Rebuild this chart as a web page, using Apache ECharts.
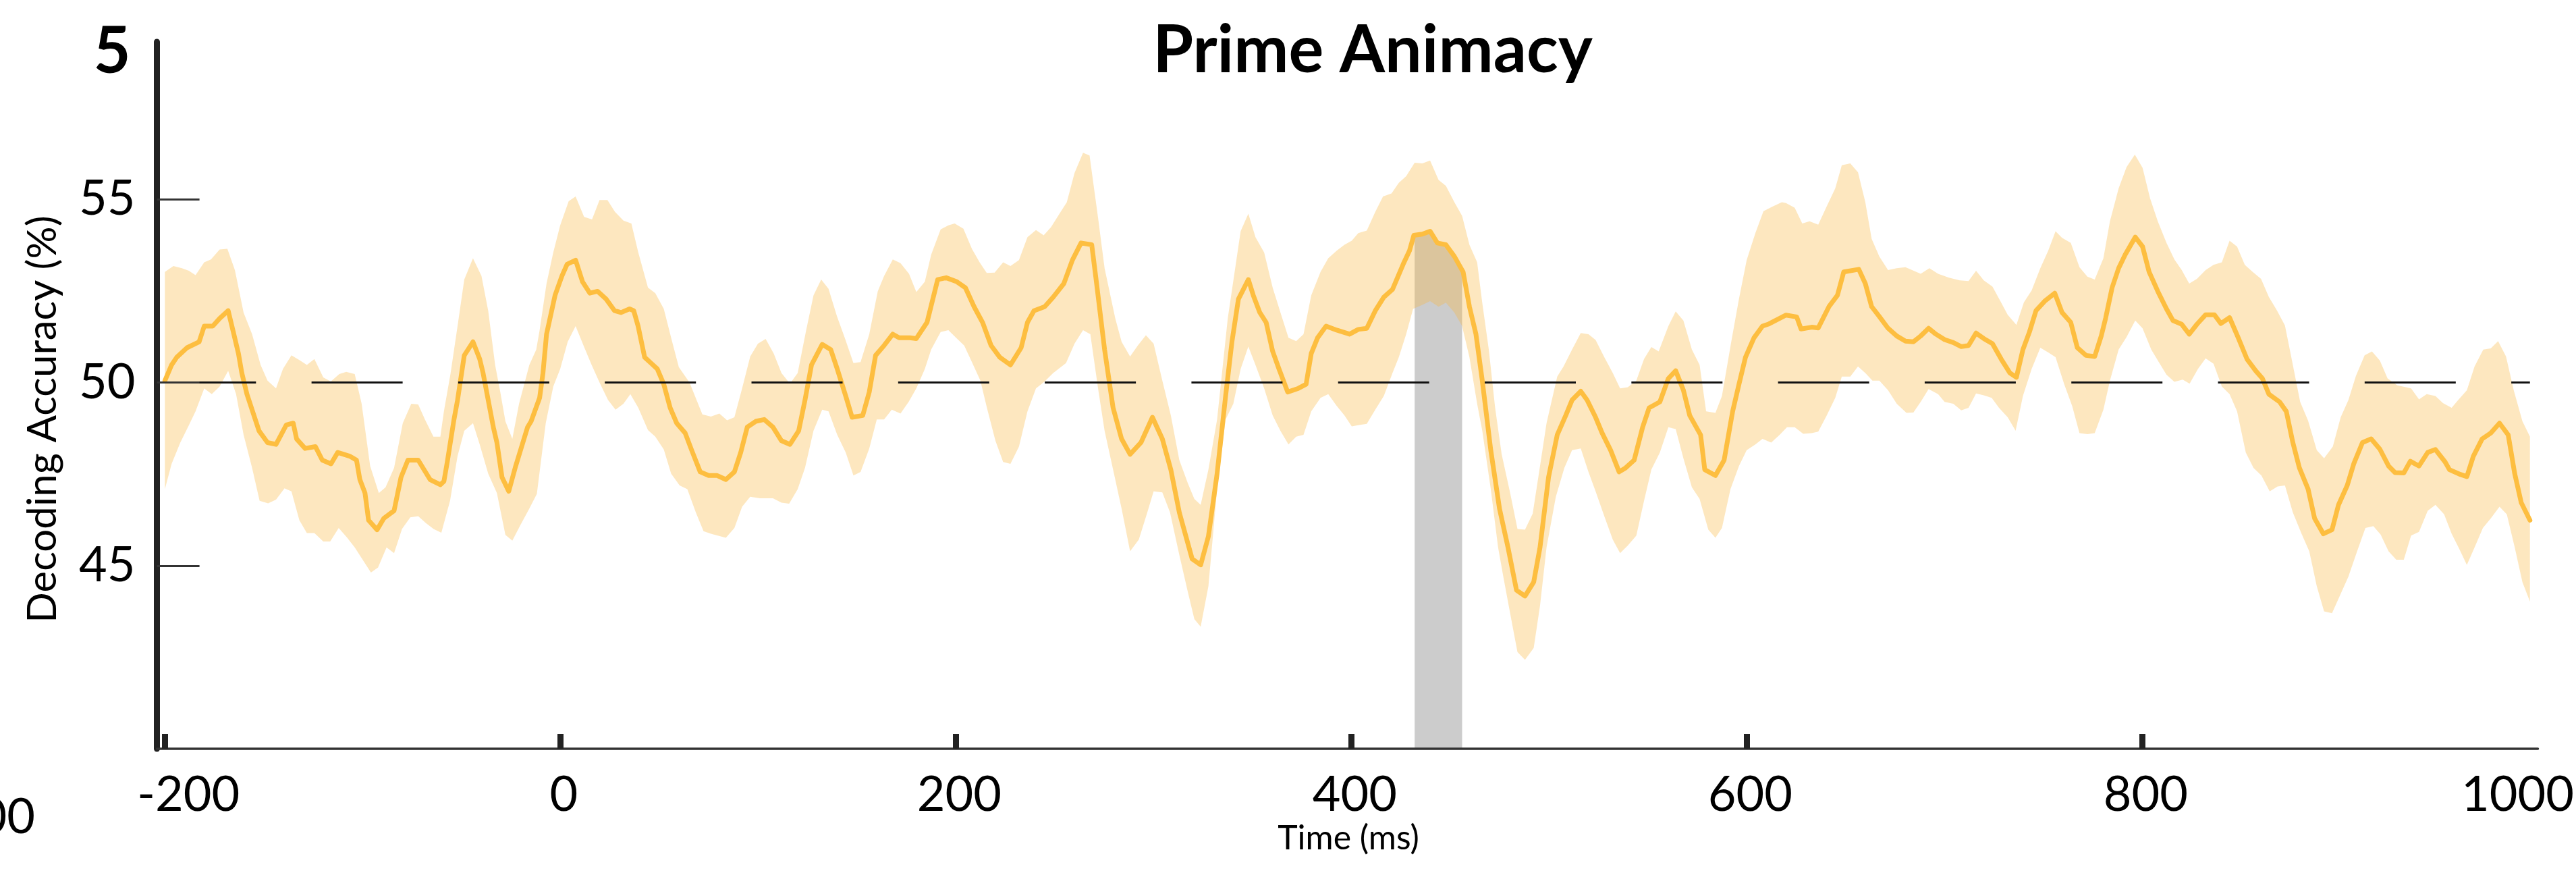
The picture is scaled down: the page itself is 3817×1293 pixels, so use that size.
<!DOCTYPE html>
<html>
<head>
<meta charset="utf-8">
<script src="https://cdn.jsdelivr.net/npm/echarts@6/dist/echarts.min.js"></script>
<style>
  html, body { margin: 0; padding: 0; background: #ffffff; }
  #chart { width: 3817px; height: 1293px; }
</style>
</head>
<body>
<div id="chart"></div>
<script>
// ---------------- data ----------------
// mean decoding accuracy (vertices of the plotted curve)
const meanT = [
  -200, -196.6, -194, -188.8, -182.7, -180.1, -175.8, -172.3, -168, -165.4,
  -162.8, -161.1, -158.5, -152.4, -148.1, -143.8, -138.6, -135.1, -133.4, -129.1,
  -123.9, -120.4, -116, -112.6, -106.6, -103.1, -101.4, -98.8, -97, -92.7,
  -89.3, -84.1, -80.6, -77.1, -71.9, -65.9, -60.7, -58.9, -57.2, -53.8,
  -52, -48.6, -44.2, -40.8, -39.1, -36.5, -33.9, -32.1, -29.5, -26.1,
  -22.6, -16.6, -14.8, -10.5, -8.8, -7, -2.7, 0.8, 3.4, 7.7,
  11.2, 14.9, 18.8, 23.1, 27.4, 30.7, 35, 37.1, 39.3, 42.6,
  45.8, 49, 52.3, 55.5, 58.8, 63.1, 66.4, 70.7, 75, 79.3,
  83.7, 88, 91.2, 94.5, 98.8, 103.1, 107.5, 111.8, 116.1, 120.5,
  123.7, 127, 132.4, 136.7, 140, 144.3, 147.5, 152.9, 156.2, 159.4,
  163.7, 168.1, 171.3, 176.7, 180, 185.4, 190.8, 195.1, 200.5, 204.8,
  209.2, 213.5, 217.8, 222.2, 227.6, 233, 236.2, 239.5, 244.9, 249.2,
  254.6, 258.9, 263.3, 268.7, 270.8, 275.2, 279.5, 283.8, 288.1, 293.6,
  299.4, 304.4, 308.7, 313, 319.5, 323.8, 327.7, 332.1, 336.4, 339.6,
  342.9, 347.9, 350.4, 353.7, 356.9, 360.2, 363.4, 367.8, 373.2, 377.1,
  379.7, 382.9, 387.2, 392.6, 399.1, 403.5, 407.8, 412.1, 416.4, 420.8,
  426.2, 429.4, 431.6, 435.9, 439.8, 443.5, 447.8, 452.1, 456.5, 459.7,
  463, 466.2, 470.5, 474.9, 479.2, 483.5, 487.8, 492.2, 495.4, 499.7,
  504.1, 508.4, 511.6, 516, 519.2, 523.5, 526.8, 531.1, 535.4, 538.7,
  543, 547.3, 550.6, 556, 560.3, 564, 567.9, 571.1, 576.6, 578.7,
  584.1, 588.5, 592.8, 596, 599.3, 603.6, 607.9, 611.2, 619.8, 625.2,
  627.4, 632.8, 636.1, 641.5, 645.8, 649, 656.6, 659.9, 663.1, 667,
  671.4, 675.8, 680.2, 684.2, 687.9, 691.9, 695.6, 700, 704.4, 708.4,
  712.1, 715.9, 719.8, 724.2, 728.6, 733, 736.3, 739.6, 742.9, 746.2,
  750.6, 755.7, 759.4, 763.8, 767.1, 771.5, 775.9, 779.2, 781.4, 784.7,
  788, 791.3, 796.4, 800.1, 803.4, 807.8, 812.2, 815.5, 819.9, 823.7,
  827.6, 832, 836.4, 839.7, 844.1, 848.5, 852.9, 857.3, 860.7, 864,
  869.4, 872.8, 876.1, 879.4, 883.8, 887.1, 891.5, 895.9, 899.2, 903.6,
  906.9, 911.3, 915.7, 920.1, 924.5, 927.8, 932.2, 935.5, 939.9, 944.3,
  948.2, 953.1, 955.3, 960.8, 964.1, 967.4, 971.8, 976.2, 980.6, 985,
  988.3, 991.6, 996
];
const meanV = [
  50.05, 50.48, 50.69, 50.95, 51.11, 51.54, 51.54, 51.75, 51.96, 51.38,
  50.79, 50.26, 49.68, 48.68, 48.36, 48.31, 48.84, 48.89, 48.46, 48.20,
  48.25, 47.88, 47.78, 48.09, 47.99, 47.88, 47.35, 46.98, 46.24, 45.98,
  46.29, 46.50, 47.41, 47.88, 47.88, 47.35, 47.21, 47.30, 47.83, 48.99,
  49.52, 50.74, 51.11, 50.64, 50.26, 49.52, 48.78, 48.36, 47.41, 47.03,
  47.72, 48.78, 48.94, 49.58, 50.26, 51.32, 52.38, 52.91, 53.23, 53.34,
  52.75, 52.44, 52.49, 52.28, 51.96, 51.91, 52.01, 51.96, 51.54, 50.69,
  50.53, 50.37, 49.95, 49.31, 48.89, 48.62, 48.15, 47.56, 47.46, 47.46,
  47.35, 47.56, 48.09, 48.78, 48.94, 48.99, 48.78, 48.41, 48.31, 48.68,
  49.52, 50.48, 51.04, 50.90, 50.37, 49.63, 49.05, 49.10, 49.74, 50.74,
  51.01, 51.32, 51.22, 51.22, 51.20, 51.64, 52.81, 52.86, 52.75, 52.59,
  52.07, 51.64, 51.01, 50.69, 50.48, 50.95, 51.64, 51.96, 52.07, 52.33,
  52.70, 53.34, 53.81, 53.76, 52.86, 50.90, 49.31, 48.46, 48.04, 48.36,
  49.05, 48.46, 47.62, 46.45, 45.18, 45.02, 45.80, 47.51, 49.63, 51.11,
  52.28, 52.81, 52.38, 51.91, 51.64, 50.85, 50.37, 49.74, 49.84, 49.95,
  50.79, 51.22, 51.54, 51.43, 51.32, 51.45, 51.48, 51.96, 52.33, 52.54,
  53.23, 53.60, 54.02, 54.05, 54.13, 53.81, 53.76, 53.44, 53.02, 52.07,
  51.32, 50.05, 48.15, 46.56, 45.50, 44.33, 44.17, 44.55, 45.50, 47.41,
  48.57, 49.10, 49.52, 49.76, 49.52, 49.05, 48.62, 48.15, 47.56, 47.67,
  47.88, 48.78, 49.31, 49.47, 50.11, 50.32, 49.79, 49.10, 48.57, 47.62,
  47.46, 47.88, 49.21, 49.95, 50.69, 51.22, 51.54, 51.60, 51.84, 51.79,
  51.46, 51.51, 51.49, 52.07, 52.38, 53.02, 53.09, 52.70, 52.07, 51.80,
  51.48, 51.27, 51.13, 51.11, 51.27, 51.48, 51.32, 51.17, 51.09, 50.98,
  51.01, 51.35, 51.20, 51.06, 50.64, 50.26, 50.14, 50.90, 51.38, 51.96,
  52.22, 52.44, 51.91, 51.64, 50.95, 50.74, 50.71, 51.27, 51.75, 52.59,
  53.12, 53.49, 53.97, 53.71, 53.02, 52.49, 52.01, 51.69, 51.59, 51.32,
  51.59, 51.85, 51.85, 51.61, 51.77, 51.22, 50.64, 50.32, 50.11, 49.68,
  49.47, 49.21, 48.36, 47.67, 47.09, 46.29, 45.87, 45.98, 46.66, 47.19,
  47.78, 48.36, 48.46, 48.18, 47.72, 47.54, 47.53, 47.85, 47.72, 48.09,
  48.17, 47.83, 47.62, 47.49, 47.43, 47.99, 48.46, 48.62, 48.89, 48.57,
  47.51, 46.72, 46.24
];
// upper edge of the confidence band
const upperT = [
  -200, -195.7, -191.4, -187.9, -184.5, -180.1, -176.7, -172.3, -168.4, -164.6,
  -160.2, -155.9, -151.6, -148.1, -143.8, -140.3, -136, -131.6, -128.2, -124.4,
  -119.9, -116.1, -111.8, -108.3, -104, -100.5, -96.2, -91.8, -88.4, -84.1,
  -79.7, -75.4, -71.9, -68.5, -64.2, -60.7, -58.9, -55.5, -52, -48.6,
  -44.2, -39.9, -36.5, -33, -30.4, -27.8, -24.3, -20.9, -15.7, -12.2,
  -10.5, -7, -3.6, -0.1, 4.2, 7.7, 12, 16, 19.8, 23.8,
  27.6, 31.9, 35.9, 39.4, 44.3, 48, 52.3, 56, 59.9, 65.3,
  71.8, 76.1, 80.4, 84.3, 88, 91.9, 96, 99.9, 103.8, 107.9,
  111.8, 116.1, 120, 124.3, 128, 131.9, 135.6, 139.9, 143.8, 148.2,
  151.8, 156.2, 160.5, 163.7, 168.1, 172, 176.3, 180, 184.3, 187.5,
  192.3, 196.2, 199.4, 203.8, 208.1, 212, 215.6, 219.6, 223.9, 227.6,
  231.9, 236.2, 240.5, 244.4, 248.1, 252.4, 256.1, 260, 264.3, 267.6,
  271.9, 275.2, 280.6, 283.8, 288.1, 292, 296.1, 300, 304.4, 308.7,
  313, 317.3, 320.6, 323.8, 327.7, 332.1, 337.5, 344, 347.9, 351.5,
  355.9, 360.2, 364.5, 368.2, 372.1, 375.8, 379.7, 384.4, 388.3, 392.6,
  396.5, 400.2, 403.5, 407.8, 412.1, 416, 420.3, 424, 427.7, 432,
  435.9, 439.8, 444.1, 447.8, 452.1, 456, 459.7, 463.6, 466.2, 469.5,
  472.7, 476, 480.3, 484, 487.8, 491.7, 495.4, 498.7, 504.1, 507.3,
  511.6, 516, 519.9, 523.5, 527.9, 532.2, 535.9, 539.8, 544.1, 548,
  551.7, 555.4, 560.3, 564, 567.9, 572.2, 576.1, 579.4, 584.1, 587.4,
  592.1, 596, 599.9, 604.3, 608.4, 613.3, 617.7, 619.8, 624.2, 628,
  631.7, 636.1, 640.4, 644.7, 648, 652.3, 656.2, 659.9, 663.1, 667,
  671.4, 675.8, 680.2, 687.9, 692.3, 696.7, 702.2, 707.7, 712.1, 715.9,
  719.8, 724.2, 728.2, 731.9, 736.3, 740.1, 744, 748.4, 752.4, 756.1,
  759.4, 763.8, 768.2, 772.2, 775.9, 780.3, 783.6, 788, 792, 796.2,
  800.1, 803.9, 807.8, 812.2, 816.2, 819.9, 823.7, 827.6, 832, 836,
  840.2, 844.1, 847.9, 851.8, 855.8, 860, 864, 867.9, 872.1, 876.1,
  879.8, 883.8, 888.2, 891.9, 896.3, 900.3, 904.2, 908, 912.4, 916.1,
  920.1, 924, 928.9, 933.3, 935.9, 939.9, 943.8, 948.2, 952, 956.4,
  959.7, 964.1, 968, 972.4, 976.2, 979.9, 983.9, 987.8, 992.2, 996
];
const upperV = [
  53.02, 53.18, 53.12, 53.05, 52.93, 53.28, 53.36, 53.63, 53.65, 53.07,
  51.91, 51.32, 50.48, 50.05, 49.84, 50.37, 50.74, 50.60, 50.48, 50.64,
  50.14, 50.03, 50.23, 50.29, 50.23, 49.42, 47.72, 46.98, 47.14, 47.67,
  48.89, 49.42, 49.40, 48.99, 48.52, 48.52, 49.21, 50.26, 51.54, 52.81,
  53.39, 52.91, 51.96, 50.48, 49.74, 48.94, 48.46, 49.42, 50.48, 50.90,
  51.43, 52.70, 53.55, 54.29, 54.95, 55.08, 54.52, 54.45, 54.98, 54.98,
  54.66, 54.42, 54.34, 53.55, 52.59, 52.44, 52.01, 51.22, 50.42, 50.00,
  49.13, 49.07, 49.15, 48.97, 49.05, 49.84, 50.71, 51.06, 51.19, 50.79,
  50.26, 49.97, 50.26, 51.43, 52.38, 52.81, 52.56, 51.80, 51.22, 50.53,
  50.56, 51.32, 52.49, 52.91, 53.36, 53.26, 52.97, 52.47, 52.75, 53.49,
  54.18, 54.29, 54.34, 54.20, 53.65, 53.28, 52.99, 53.00, 53.28, 53.18,
  53.34, 53.97, 54.16, 54.02, 54.24, 54.61, 54.92, 55.72, 56.27, 56.20,
  54.50, 53.12, 51.75, 51.11, 50.71, 51.01, 51.29, 51.06, 50.05, 49.10,
  47.88, 47.25, 46.82, 46.66, 47.62, 48.99, 51.75, 54.13, 54.61, 53.97,
  53.55, 52.59, 51.85, 51.22, 51.13, 51.32, 52.38, 53.02, 53.39, 53.60,
  53.76, 53.87, 54.08, 54.15, 54.66, 55.08, 55.16, 55.45, 55.63, 56.00,
  55.98, 56.06, 55.53, 55.37, 54.92, 54.55, 53.76, 53.28, 52.17, 50.90,
  49.31, 48.04, 46.98, 46.00, 45.98, 46.42, 47.72, 48.89, 50.16, 50.44,
  50.90, 51.35, 51.32, 51.16, 50.69, 50.26, 49.84, 49.87, 50.05, 50.64,
  50.97, 50.85, 51.54, 51.94, 51.69, 50.90, 50.48, 49.21, 49.17, 49.63,
  51.11, 52.28, 53.34, 54.08, 54.68, 54.81, 54.92, 54.90, 54.77, 54.34,
  54.40, 54.31, 54.81, 55.30, 55.93, 55.98, 55.74, 54.92, 53.92, 53.44,
  53.07, 53.12, 53.15, 52.97, 53.12, 52.97, 52.86, 52.79, 52.77, 53.05,
  52.79, 52.62, 52.22, 51.85, 51.57, 52.19, 52.51, 53.12, 53.60, 54.13,
  53.95, 53.81, 53.15, 52.89, 52.81, 53.39, 54.40, 55.30, 55.88, 56.22,
  55.86, 55.03, 54.40, 53.81, 53.36, 53.07, 52.70, 52.83, 53.07, 53.21,
  53.28, 53.87, 53.71, 53.21, 53.02, 52.83, 52.33, 51.98, 51.56, 50.48,
  49.47, 48.96, 48.15, 47.93, 48.25, 49.05, 49.52, 50.18, 50.74, 50.85,
  50.60, 50.11, 49.92, 49.87, 49.84, 49.54, 49.68, 49.63, 49.44, 49.31,
  49.52, 49.79, 50.44, 50.90, 50.93, 51.13, 50.71, 49.79, 48.94, 48.52
];
// lower edge of the confidence band
const lowerT = [
  -200, -196.6, -192.2, -187.9, -184.5, -180.1, -176.3, -172.3, -168, -164,
  -160.2, -155.9, -152.1, -147.8, -143.8, -139.5, -136, -132, -128.2, -124.4,
  -119.9, -116.4, -112.1, -107.8, -104, -99.6, -95.8, -92.2, -87.9, -84.1,
  -80.1, -75.9, -71.9, -68, -64.1, -60.2, -55.8, -52, -48.6, -44.2,
  -40.8, -36.5, -32.1, -27.8, -24.3, -20, -15.7, -11.9, -7.4, -3.6,
  -0.1, 3.7, 7.7, 11.7, 15.8, 19.8, 24.1, 27.9, 31.9, 35.4,
  39.4, 44.3, 48, 52.3, 56, 60.3, 64.2, 68.5, 72.4, 76.1,
  83.7, 88, 91.9, 96, 101, 107.5, 111.8, 115.7, 120, 123.7,
  128, 132.4, 135.6, 140, 144.3, 148.2, 151.8, 156.2, 160, 163.7,
  167.6, 172, 176.1, 180, 184.3, 187.5, 192.3, 196.2, 200.1, 204.2,
  208.1, 212.4, 215.7, 220, 223.9, 227.6, 231.9, 236.2, 240.5, 244.9,
  249.2, 255.7, 260, 264.3, 268, 271.9, 275.2, 279.5, 283.8, 288.1,
  292.5, 296.8, 300, 304.4, 308.3, 313, 317.3, 320.6, 323.8, 327.7,
  332.1, 336.4, 340.3, 344, 347.9, 351.5, 355.9, 360.2, 364.1, 368.2,
  372.1, 375.8, 379.7, 384.4, 388.3, 392.6, 396.5, 400.2, 403.9, 407.8,
  412.1, 416.4, 420.8, 424, 427.7, 431.2, 435.9, 439.8, 444.1, 447.8,
  452.1, 456, 459.7, 463.6, 466.2, 470.5, 474.2, 477, 481.4, 484,
  487.8, 492.2, 495.4, 498.7, 503.4, 507.7, 511.6, 516, 519.9, 523.5,
  527.9, 532.2, 535.9, 539.8, 544.1, 548, 551.7, 556, 560.3, 564,
  567.9, 572.2, 576.1, 580.5, 584.1, 587.4, 591.7, 596, 599.9, 604.3,
  607.9, 612.3, 616.6, 620.3, 624.2, 628.5, 632.8, 636.1, 640.4, 644.7,
  648, 652.3, 656.2, 659.9, 663.5, 667, 671.4, 675.8, 680.7, 684.2,
  687.9, 691.9, 696.7, 700, 704.4, 708.4, 712.1, 715.9, 719.8, 723.8,
  727.5, 731.9, 735.9, 739.6, 744, 748.4, 752.4, 756.1, 760.5, 764.5,
  768.2, 772.2, 775.9, 780.3, 783.6, 788, 792, 796.4, 800.1, 804.5,
  808.3, 812.2, 816.2, 820.4, 823.9, 828.1, 832, 836, 840.2, 844.1,
  847.9, 852.3, 856.2, 860.2, 864.4, 868.4, 872.1, 876.1, 880.5, 884.4,
  888.2, 891.9, 895.9, 899.8, 904.2, 908.6, 912.8, 916.8, 920.5, 924.5,
  928.4, 932.2, 935.9, 939.9, 944.3, 948.2, 952.6, 956.4, 960.3, 964.1,
  968, 972.2, 976.2, 980.6, 984.3, 988.3, 992.2, 996
];
const lowerV = [
  47.09, 47.78, 48.36, 48.83, 49.21, 49.84, 49.68, 49.89, 50.32, 49.68,
  48.57, 47.67, 46.77, 46.70, 46.80, 47.11, 47.03, 46.24, 45.89, 45.89,
  45.66, 45.66, 46.03, 45.76, 45.50, 45.13, 44.81, 44.95, 45.50, 45.34,
  46.00, 46.32, 46.35, 46.16, 46.00, 45.90, 46.77, 47.99, 48.68, 48.89,
  48.31, 47.51, 46.98, 45.84, 45.68, 46.13, 46.56, 46.96, 48.89, 49.89,
  50.37, 51.11, 51.54, 51.01, 50.48, 50.00, 49.52, 49.26, 49.42, 49.68,
  49.31, 48.70, 48.52, 48.17, 47.51, 47.19, 47.09, 46.45, 45.94, 45.87,
  45.76, 46.03, 46.61, 46.88, 46.84, 46.84, 46.72, 46.69, 47.09, 47.67,
  48.68, 49.26, 49.21, 48.57, 48.09, 47.46, 47.56, 48.20, 48.99, 48.99,
  49.26, 49.15, 49.47, 49.84, 50.37, 50.90, 51.38, 51.43, 51.22, 51.01,
  50.56, 50.05, 49.31, 48.41, 47.83, 47.78, 48.25, 49.21, 49.84, 50.03,
  50.26, 50.53, 51.06, 51.43, 51.32, 49.84, 48.68, 47.62, 46.56, 45.39,
  45.71, 46.45, 47.03, 47.00, 46.45, 45.29, 44.28, 43.54, 43.33, 44.44,
  47.09, 48.99, 49.42, 50.37, 50.98, 50.48, 49.84, 49.10, 48.68, 48.31,
  48.52, 48.57, 49.21, 49.58, 49.68, 49.36, 49.10, 48.80, 48.84, 48.87,
  49.26, 49.63, 50.26, 50.69, 51.32, 52.01, 52.12, 52.22, 52.07, 52.18,
  51.91, 51.54, 50.69, 49.42, 48.68, 47.09, 45.50, 44.65, 43.38, 42.64,
  42.43, 42.75, 43.91, 45.50, 46.88, 47.67, 48.15, 48.20, 47.56, 47.03,
  46.35, 45.71, 45.34, 45.55, 45.82, 46.77, 47.62, 48.09, 48.78, 48.73,
  47.93, 47.14, 46.82, 45.98, 45.76, 46.03, 47.09, 47.72, 48.15, 48.31,
  48.46, 48.36, 48.57, 48.78, 48.78, 48.60, 48.62, 48.66, 49.10, 49.58,
  50.16, 50.16, 50.44, 50.26, 50.05, 50.05, 49.79, 49.42, 49.17, 49.18,
  49.47, 49.82, 49.68, 49.47, 49.42, 49.24, 49.31, 49.70, 49.65, 49.58,
  49.31, 49.05, 48.68, 49.63, 50.37, 50.95, 50.82, 50.69, 49.95, 49.36,
  48.62, 48.59, 48.62, 49.26, 50.05, 50.90, 51.24, 51.69, 51.48, 50.90,
  50.56, 50.21, 50.02, 50.08, 49.97, 50.37, 50.66, 50.51, 49.89, 49.68,
  49.21, 48.09, 47.67, 47.46, 47.03, 47.16, 47.19, 46.45, 45.87, 45.39,
  44.44, 43.75, 43.70, 44.17, 44.70, 45.39, 46.03, 46.08, 45.85, 45.39,
  45.16, 45.16, 45.82, 45.92, 46.50, 46.66, 46.40, 45.87, 45.45, 45.02,
  45.50, 46.03, 46.29, 46.61, 46.40, 45.50, 44.55, 44.02
];
// significant cluster (grey patch under the curve)
const sigTimes = [432, 436, 440, 444, 448, 452, 456];
const sigMean  = [54.02, 54.05, 54.12, 53.80, 53.75, 53.44, 53.07];
// chance level
const chanceLevel = 50;
const chanceSpan = [-200, 996];
// ticks / labels / texts
const xTickValues = [-200, 0, 200, 400, 600, 800, 1000];
const yTickValues = [45, 50, 55];
const titleText = 'Prime Animacy';
const panelLabel = '5';
const xName = 'Time (ms)';
const yName = 'Decoding Accuracy (%)';
const strayLabel = '1000';

// ---------------- chart ----------------
const FONT = 'Lato';
const chart = echarts.init(document.getElementById('chart'), null, { renderer: 'canvas' });

const labelStyle = { fontFamily: FONT, fontSize: 72, color: '#000' };

const option = {
  animation: false,
  backgroundColor: '#ffffff',
  grid: { left: 232.6, right: 35.5, top: 62, bottom: 184, containLabel: false },
  xAxis: {
    type: 'value', min: -204, max: 1000, z: 10,
    axisLine: { show: true, onZero: false, lineStyle: { color: '#333', width: 3.5 } },
    axisTick: { show: true, inside: true, length: 22,
      lineStyle: { color: '#222', width: 9 },
      customValues: xTickValues.filter(v => v < 1000) },
    axisLabel: {
      customValues: xTickValues, margin: 33,
      fontFamily: FONT, fontSize: 72, color: '#000',
      formatter: function (v) {
        if (v === xTickValues[0]) return '{first|' + v + '}';
        if (v === xTickValues[xTickValues.length - 1]) return '{last|' + v + '}';
        return '{mid|' + v + '}';
      },
      rich: {
        first: Object.assign({ padding: [0, 0, 0, 70] }, labelStyle),
        last: Object.assign({ padding: [0, 60, 0, 0] }, labelStyle),
        mid: Object.assign({ padding: [0, 0, 0, 10] }, labelStyle)
      }
    },
    splitLine: { show: false }
  },
  yAxis: {
    type: 'value', min: 40, max: 59.3, z: 10,
    axisLine: { show: true, onZero: false, lineStyle: { color: '#222', width: 9 } },
    axisTick: { show: true, inside: true, length: 63,
      lineStyle: { color: '#333', width: 3 }, customValues: yTickValues },
    axisLabel: { customValues: yTickValues, margin: 32, fontFamily: FONT, fontSize: 72, color: '#000' },
    splitLine: { show: false }
  },
  series: [
    {
      name: 'significant', type: 'line', z: 1, silent: true,
      data: sigTimes.map((t, i) => [t, sigMean[i]]),
      showSymbol: false, symbol: 'none',
      lineStyle: { width: 0 },
      areaStyle: { color: '#cccccc', opacity: 1, origin: 'start' }
    },
    {
      name: 'ci', type: 'custom', z: 2, silent: true,
      data: upperT.map((t, i) => [t, upperV[i]]),
      encode: { x: 0, y: 1 },
      renderItem: function (params, api) {
        if (params.dataIndex !== 0) return;
        const pts = [];
        for (let i = 0; i < upperT.length; i++) pts.push(api.coord([upperT[i], upperV[i]]));
        for (let i = lowerT.length - 1; i >= 0; i--) pts.push(api.coord([lowerT[i], lowerV[i]]));
        return { type: 'polygon', shape: { points: pts }, style: { fill: 'rgba(249,182,61,0.33)' } };
      }
    },
    {
      name: 'mean', type: 'line', z: 3, silent: true,
      data: meanT.map((t, i) => [t, meanV[i]]), showSymbol: false, symbol: 'none',
      lineStyle: { color: '#fdbe40', width: 7, join: 'round', cap: 'round' }
    },
    {
      name: 'chance', type: 'line', z: 4, silent: true,
      data: [[chanceSpan[0], chanceLevel], [chanceSpan[1], chanceLevel]],
      showSymbol: false, symbol: 'none',
      lineStyle: { color: '#111', width: 3, type: [135, 82.3] }
    }
  ],
  graphic: [
    { type: 'text', x: 2034, y: 76, z: 100,
      style: { text: titleText, fontFamily: FONT, fontWeight: 'bold', fontSize: 97, fill: '#000', align: 'center', verticalAlign: 'middle' } },
    { type: 'text', x: 166, y: 77, z: 100,
      style: { text: panelLabel, fontFamily: FONT, fontWeight: 'bold', fontSize: 95, fill: '#000', align: 'center', verticalAlign: 'middle' } },
    { type: 'text', x: 1998, y: 1242, z: 100,
      style: { text: xName, fontFamily: FONT, fontSize: 50, fill: '#000', align: 'center', verticalAlign: 'middle' } },
    { type: 'text', x: 64, y: 621, rotation: Math.PI / 2, z: 100,
      style: { text: yName, fontFamily: FONT, fontSize: 60, fill: '#000', align: 'center', verticalAlign: 'middle' } },
    { type: 'text', x: 52, y: 1211, z: 100,
      style: { text: strayLabel, fontFamily: FONT, fontSize: 72, fill: '#000', align: 'right', verticalAlign: 'middle' } }
  ]
};
chart.setOption(option);
</script>
</body>
</html>
